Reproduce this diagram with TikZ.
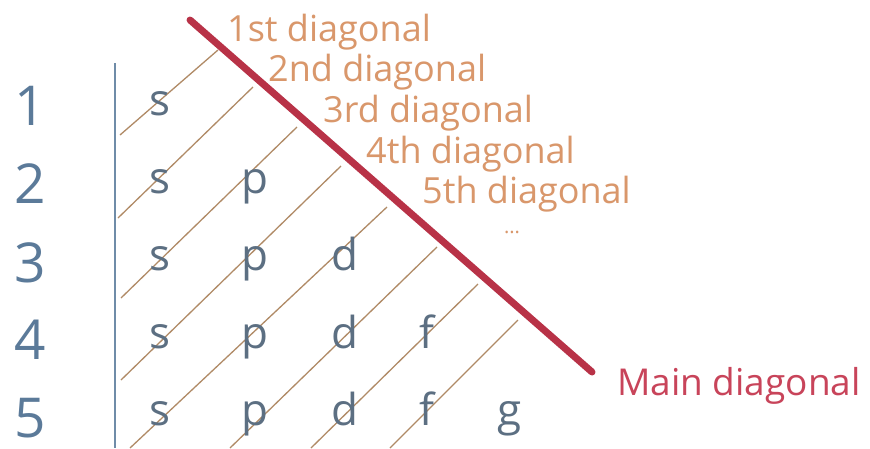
\documentclass[tikz,border=0pt]{standalone}
\usepackage{fontspec}
\setmainfont{Open Sans}
\definecolor{rowcol}{HTML}{5B7A99}
\definecolor{letcol}{HTML}{5C6F82}
\definecolor{axiscol}{HTML}{6F8CA8}
\definecolor{labcol}{HTML}{D9976B}
\definecolor{hatchcol}{HTML}{B08A66}
\definecolor{maincol}{HTML}{B83247}
\definecolor{maintext}{HTML}{C8445A}
\tikzset{
  rownum/.style={anchor=base, inner sep=0pt, text depth=0pt, text=rowcol, font=\fontsize{55}{55}\selectfont},
  orb/.style={anchor=base, inner sep=0pt, text=letcol, font=\fontsize{44}{44}\selectfont},
  diaglab/.style={anchor=base west, inner sep=0pt, text=labcol, font=\fontsize{36}{36}\selectfont},
  hatch/.style={draw=hatchcol, line width=1.3pt},
  mainline/.style={draw=maincol, line width=7pt, line cap=round},
  axis/.style={draw=axiscol, line width=2pt}
}
\begin{document}
\begin{tikzpicture}[x=1pt,y=-1pt]
\useasboundingbox[fill=white] (0,0) rectangle (870,448);
% row numbers
\node[rownum] (r1) at (30,125) {1};
\node[rownum] (r2) at (30,203) {2};
\node[rownum] (r3) at (30,282) {3};
\node[rownum] (r4) at (30,359) {4};
\node[rownum] (r5) at (30,437) {5};
% axis
\coordinate (axt) at (115,63);
\coordinate (axb) at (115,448);
\draw[axis] (axt) -- (axb);
% hatch lines
\coordinate (a1) at (120,135); \coordinate (b1) at (218,50);
\coordinate (a2) at (118,218); \coordinate (b2) at (253,87);
\coordinate (a3) at (121,298); \coordinate (b3) at (297,127);
\coordinate (a4) at (121,380); \coordinate (b4) at (341,166);
\coordinate (a5) at (130,448); \coordinate (b5) at (387,207);
\coordinate (a6) at (230,448); \coordinate (b6) at (437,247);
\coordinate (a7) at (311,448); \coordinate (b7) at (478,284);
\coordinate (a8) at (390,448); \coordinate (b8) at (518,320);
\foreach \i in {1,...,8} {\draw[hatch] (a\i) -- (b\i);}
% orbitals
\node[orb] (s1) at (160,115) {s};
\node[orb] (s2) at (160,193) {s};
\node[orb] (p2) at (255,193) {p};
\node[orb] (s3) at (160,270) {s};
\node[orb] (p3) at (255,270) {p};
\node[orb] (d3) at (345,270) {d};
\node[orb] (s4) at (160,348) {s};
\node[orb] (p4) at (255,348) {p};
\node[orb] (d4) at (345,348) {d};
\node[orb] (f4) at (427,348) {f};
\node[orb] (s5) at (160,425) {s};
\node[orb] (p5) at (255,425) {p};
\node[orb] (d5) at (345,425) {d};
\node[orb] (f5) at (427,425) {f};
\node[orb] (g5) at (510,425) {g};
% main diagonal
\coordinate (mt) at (190,20);
\coordinate (mb) at (592,372);
\draw[mainline] (mt) -- (mb);
% labels
\node[diaglab] (l1) at (227,41) {1st diagonal};
\node[diaglab] (l2) at (268,81) {2nd diagonal};
\node[diaglab] (l3) at (323,122) {3rd diagonal};
\node[diaglab] (l4) at (366,163) {4th diagonal};
\node[diaglab] (l5) at (422,203) {5th diagonal};
\node[anchor=center, inner sep=0pt, text=labcol, font=\fontsize{20}{20}\selectfont] (ld) at (512,232) {...};
\node[anchor=base west, inner sep=0pt, text=maintext, font=\fontsize{37}{37}\selectfont] (lm) at (617,395) {Main diagonal};
\end{tikzpicture}
\end{document}
